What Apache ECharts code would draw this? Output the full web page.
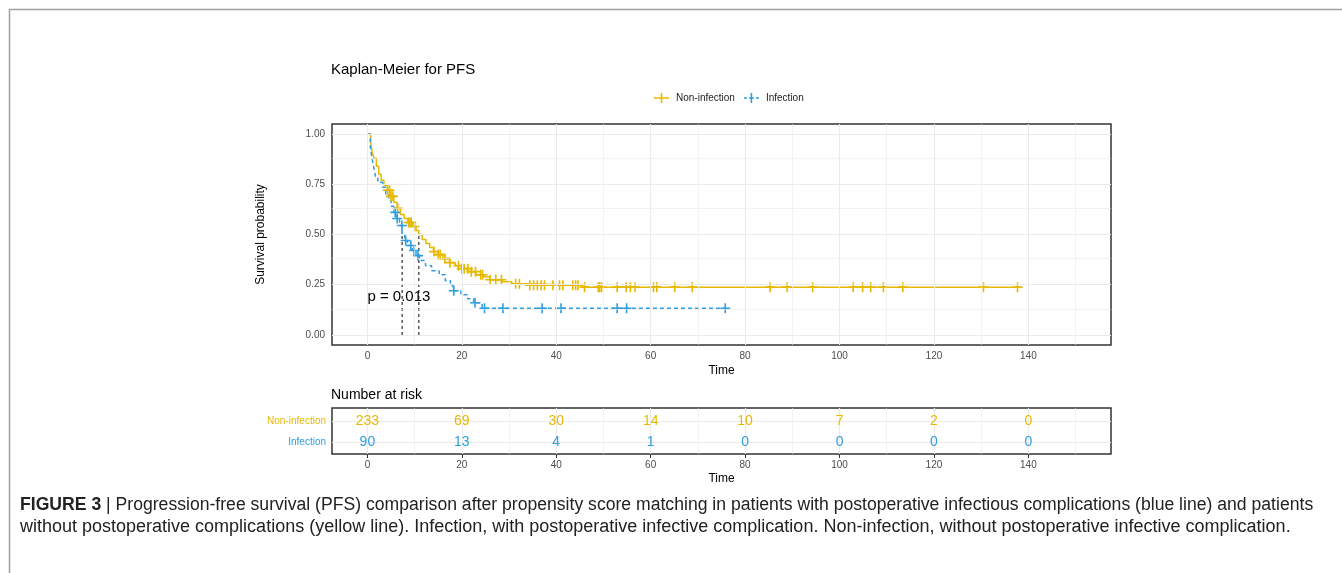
<!DOCTYPE html>
<html>
<head>
<meta charset="utf-8">
<title>Kaplan-Meier for PFS</title>
<script src="https://cdn.jsdelivr.net/npm/echarts@6.0.0/dist/echarts.min.js"></script>
<style>
  html, body { margin: 0; padding: 0; background: #fff; }
  #chart { width: 1342px; height: 573px; }
</style>
</head>
<body>
<div id="chart"></div>
<script>
// KM step points [time, survival]
const nonInfectionCurve = [
  [0, 1], [0.7, 0.96], [1.0, 0.91], [1.4, 0.88], [1.9, 0.84], [2.4, 0.8], [2.9, 0.77],
  [3.5, 0.745], [4.2, 0.72], [4.9, 0.69], [5.6, 0.66], [6.3, 0.63], [7.0, 0.6], [7.8, 0.58],
  [8.6, 0.56], [9.6, 0.54], [10.3, 0.52], [10.9, 0.5], [11.6, 0.475], [12.4, 0.455],
  [13.2, 0.435], [14.0, 0.415], [15.0, 0.4], [16.0, 0.38], [17.4, 0.36], [18.6, 0.345],
  [20.0, 0.33], [21.4, 0.315], [23.0, 0.3], [24.6, 0.29], [26.0, 0.275], [28.6, 0.265],
  [30.6, 0.255], [33.0, 0.248], [45.6, 0.238], [137.7, 0.238]
]
const infectionCurve = [
  [0, 1], [0.6, 0.94], [0.9, 0.89], [1.3, 0.84], [1.7, 0.79], [2.2, 0.76], [3.2, 0.735],
  [3.9, 0.7], [4.5, 0.67], [5.0, 0.64], [5.6, 0.61], [6.2, 0.58], [6.8, 0.545], [7.35, 0.5],
  [7.9, 0.47], [8.5, 0.445], [9.5, 0.42], [10.3, 0.395], [11.0, 0.37], [12.3, 0.345],
  [13.6, 0.32], [15.2, 0.3], [16.5, 0.27], [17.6, 0.245], [18.2, 0.22], [19.8, 0.2],
  [21.2, 0.18], [22.5, 0.16], [24.3, 0.133], [75.8, 0.133]
]
// censoring times
const nonInfectionCensor = [
  4.3, 4.7, 5.0, 5.4, 6.4, 8.7, 9.0, 9.3, 10.0, 14.1, 15.0, 15.4, 16.4, 17.5, 19.3, 20.0,
  20.5, 21.3, 22.0, 22.9, 24.0, 24.4, 26.0, 27.2, 28.4, 31.4, 32.2, 34.4, 35.2, 36.0, 36.8,
  37.5, 39.3, 40.7, 41.4, 43.5, 44.1, 44.6, 46.0, 48.9, 49.2, 49.6, 52.9, 54.8, 55.7, 56.7,
  60.6, 61.3, 65.1, 68.8, 85.3, 88.9, 94.3, 102.9, 104.9, 106.6, 109.3, 113.4, 130.5, 137.7
]
const infectionCensor = [
  5.9, 6.3, 7.3, 8.1, 9.2, 9.9, 10.7, 18.3, 22.8, 24.8, 28.7, 37.0, 41.0, 52.9, 54.9, 75.8
]
const medianTimes = [7.35, 10.9]
const pValueText = 'p = 0.013'

// number at risk table
const riskTimes = [0, 20, 40, 60, 80, 100, 120, 140]
const nonInfectionRisk = [233, 69, 30, 14, 10, 7, 2, 0]
const infectionRisk = [90, 13, 4, 1, 0, 0, 0, 0]

// axis breaks
const xBreaks = [0, 20, 40, 60, 80, 100, 120, 140]
const xMinor = [10, 30, 50, 70, 90, 110, 130, 150]
const yBreaks = [0, 0.25, 0.5, 0.75, 1]
const yMinor = [0.125, 0.375, 0.625, 0.875]

const YELLOW = '#E7B800'
const BLUE = '#2E9FDF'
const FONT = 'Liberation Sans, Arial, sans-serif'
const CAPTION_FONT = '18px "Liberation Sans", Arial, sans-serif'
const plusIcon = 'path://M-5,-0.8 H5 V0.8 H-5 Z M-0.8,-5 H0.8 V5 H-0.8 Z'

function survAt(curve, t) {
  let s = curve[0][1]
  for (const p of curve) {
    if (p[0] <= t) s = p[1]
  }
  return s
}

function gridLines(xIdx, yMajor, yMin) {
  const minorStyle = { color: '#ebebeb', width: 0.6, type: 'solid' }
  const majorStyle = { color: '#ebebeb', width: 1.1, type: 'solid' }
  const data = []
  xMinor.forEach(v => data.push({ xAxis: v, lineStyle: minorStyle }))
  yMin.forEach(v => data.push({ yAxis: v, lineStyle: minorStyle }))
  xBreaks.forEach(v => data.push({ xAxis: v, lineStyle: majorStyle }))
  yMajor.forEach(v => data.push({ yAxis: v, lineStyle: majorStyle }))
  return {
    type: 'line',
    xAxisIndex: xIdx,
    yAxisIndex: xIdx,
    data: [],
    z: 1,
    silent: true,
    markLine: {
      silent: true,
      symbol: ['none', 'none'],
      label: { show: false },
      animation: false,
      data: data
    }
  }
}

// text-only scatter (symbol invisible, label carries the value)
function textSeries(xIdx, data, color, size, formatter, position) {
  return {
    type: 'scatter', xAxisIndex: xIdx, yAxisIndex: xIdx, z: 5, silent: true,
    symbolSize: 0.01,
    itemStyle: { color: color, opacity: 1 },
    data: data,
    label: { show: true, position: position, distance: 0, formatter: formatter,
      fontSize: size, color: color, opacity: 1, fontFamily: FONT }
  }
}

const chart = echarts.init(document.getElementById('chart'))

const medianSeries = []
medianSeries.push({
  type: 'line', data: [[0, 0.5], [Math.max(...medianTimes), 0.5]],
  showSymbol: false, silent: true, z: 2,
  lineStyle: { color: '#000', width: 1, type: [3, 3] }
})
medianTimes.forEach(t => {
  medianSeries.push({
    type: 'line', data: [[t, 0], [t, 0.5]],
    showSymbol: false, silent: true, z: 2,
    lineStyle: { color: '#000', width: 1, type: [3, 3] }
  })
})

const axisLabelStyle = { color: '#4d4d4d', fontSize: 10, fontFamily: FONT }

const option = {
  animation: false,
  textStyle: { fontFamily: FONT },
  title: [
    { text: 'Kaplan-Meier for PFS', left: 331, top: 62, padding: 0,
      textStyle: { fontSize: 15, fontWeight: 'normal', color: '#000', fontFamily: FONT } },
    { text: 'Number at risk', left: 331, top: 388, padding: 0,
      textStyle: { fontSize: 14, fontWeight: 'normal', color: '#000', fontFamily: FONT } }
  ],
  legend: {
    left: 654, top: 93, padding: 0,
    itemWidth: 15, itemHeight: 10, itemGap: 9,
    textStyle: { fontSize: 10, color: '#222', fontFamily: FONT, padding: [0, 0, 0, 2] },
    itemStyle: { borderWidth: 0 },
    data: [
      { name: 'Non-infection', icon: 'path://M0,4.2 H15 V5.8 H0 Z M6.7,0 H8.3 V10 H6.7 Z' },
      { name: 'Infection', icon: 'path://M0,4.2 H3 V5.8 H0 Z M5,4.2 H10 V5.8 H5 Z M12,4.2 H15 V5.8 H12 Z M6.7,0 H8.3 V10 H6.7 Z' }
    ]
  },
  grid: [
    { left: 332, top: 124, width: 779, height: 221, show: true, borderColor: '#333', borderWidth: 1.5, backgroundColor: '#fff' },
    { left: 332, top: 408, width: 779, height: 46, show: true, borderColor: '#333', borderWidth: 1.5, backgroundColor: '#fff' }
  ],
  xAxis: [
    {
      type: 'value', gridIndex: 0, min: -7.5, max: 157.5,
      name: 'Time', nameLocation: 'middle', nameGap: 20,
      nameTextStyle: { fontSize: 12, color: '#000', fontFamily: FONT },
      axisLine: { show: false },
      axisTick: { show: true, length: 4, customValues: xBreaks, lineStyle: { color: '#333' } },
      axisLabel: Object.assign({ margin: 6, customValues: xBreaks }, axisLabelStyle),
      splitLine: { show: false }
    },
    {
      type: 'value', gridIndex: 1, min: -7.5, max: 157.5,
      name: 'Time', nameLocation: 'middle', nameGap: 19,
      nameTextStyle: { fontSize: 12, color: '#000', fontFamily: FONT },
      axisLine: { show: false },
      axisTick: { show: true, length: 4, customValues: riskTimes, lineStyle: { color: '#333' } },
      axisLabel: Object.assign({ margin: 6, customValues: riskTimes }, axisLabelStyle),
      splitLine: { show: false }
    }
  ],
  yAxis: [
    {
      type: 'value', gridIndex: 0, min: -0.05, max: 1.05,
      name: 'Survival probability', nameLocation: 'middle', nameGap: 65,
      nameTextStyle: { fontSize: 12, color: '#000', fontFamily: FONT },
      axisLine: { show: false },
      axisTick: { show: true, length: 4, customValues: yBreaks, lineStyle: { color: '#333' } },
      axisLabel: Object.assign({ margin: 7, customValues: yBreaks, formatter: v => v.toFixed(2) }, axisLabelStyle),
      splitLine: { show: false }
    },
    {
      type: 'value', gridIndex: 1, min: 0.45, max: 2.65,
      axisLine: { show: false },
      axisTick: { show: true, length: 4, customValues: [1, 2], lineStyle: { color: '#333' } },
      axisLabel: {
        margin: 6, customValues: [1, 2], fontSize: 10, fontFamily: FONT,
        formatter: v => v === 2 ? '{a|Non-infection}' : '{b|Infection}',
        rich: {
          a: { color: YELLOW, fontSize: 10, fontFamily: FONT },
          b: { color: BLUE, fontSize: 10, fontFamily: FONT }
        }
      },
      splitLine: { show: false }
    }
  ],
  series: [
    gridLines(0, yBreaks, yMinor),
    gridLines(1, [1, 2], []),
    {
      name: 'Non-infection', type: 'line', step: 'end', data: nonInfectionCurve,
      showSymbol: false, z: 3, color: YELLOW,
      itemStyle: { color: YELLOW },
      lineStyle: { color: YELLOW, width: 1.5 }
    },
    {
      name: 'Infection', type: 'line', step: 'end', data: infectionCurve,
      showSymbol: false, z: 3, color: BLUE,
      itemStyle: { color: BLUE },
      lineStyle: { color: BLUE, width: 1.5, type: [4, 3] }
    },
    {
      name: 'Non-infection censor', type: 'scatter', z: 4, silent: true,
      symbol: plusIcon, symbolSize: 10,
      itemStyle: { color: YELLOW, opacity: 1 },
      data: nonInfectionCensor.map(t => [t, survAt(nonInfectionCurve, t)])
    },
    {
      name: 'Infection censor', type: 'scatter', z: 4, silent: true,
      symbol: plusIcon, symbolSize: 10,
      itemStyle: { color: BLUE, opacity: 1 },
      data: infectionCensor.map(t => [t, survAt(infectionCurve, t)])
    },
    ...medianSeries,
    textSeries(0, [[0, 0.189]], '#000', 15, pValueText, 'right'),
    textSeries(1, riskTimes.map((t, i) => [t, 2, nonInfectionRisk[i]]), YELLOW, 14, p => String(p.value[2]), 'inside'),
    textSeries(1, riskTimes.map((t, i) => [t, 1, infectionRisk[i]]), BLUE, 14, p => String(p.value[2]), 'inside')
  ],
  graphic: [
    { type: 'polyline', silent: true, shape: { points: [[9.5, 573], [9.5, 9.5], [1342, 9.5]] },
      style: { stroke: '#a0a0a0', lineWidth: 1.5, fill: null } },
    { type: 'text', x: 20, y: 505, scaleX: 0.978, silent: true,
      style: {
        x: 0, y: 0, verticalAlign: 'middle',
        text: '{b|FIGURE 3} | Progression-free survival (PFS) comparison after propensity score matching in patients with postoperative infectious complications (blue line) and patients',
        font: CAPTION_FONT, fill: '#222',
        rich: { b: { font: 'bold ' + CAPTION_FONT, fill: '#222' } }
      } },
    { type: 'text', x: 20, y: 527, scaleX: 1.0, silent: true,
      style: {
        x: 0, y: 0, verticalAlign: 'middle',
        text: 'without postoperative complications (yellow line). Infection, with postoperative infective complication. Non-infection, without postoperative infective complication.',
        font: CAPTION_FONT, fill: '#222'
      } }
  ]
}

chart.setOption(option)
</script>
</body>
</html>
